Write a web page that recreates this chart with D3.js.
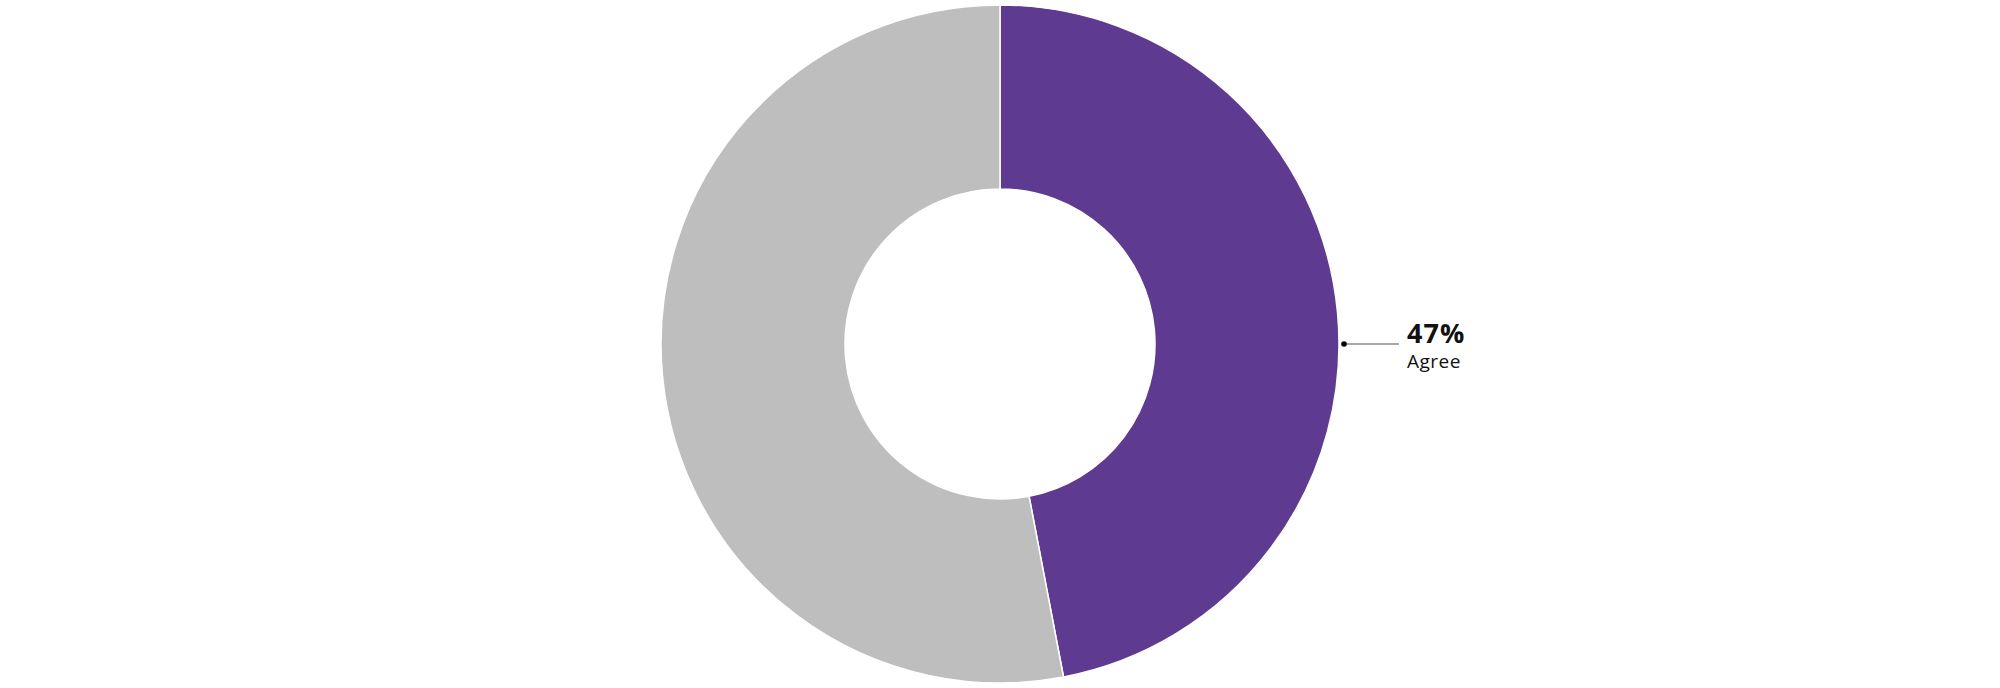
<!DOCTYPE html>
<html>
<head>
<meta charset="utf-8">
<script src="https://cdn.jsdelivr.net/npm/d3@7"></script>
<style>
  html, body { margin: 0; padding: 0; background: #fff; }
  #chart { width: 2000px; height: 688px; }
  text { font-family: "Open Sans", "Noto Sans", sans-serif; fill: #111; }
</style>
</head>
<body>
<div id="chart"></div>
<script>
// Slice data
const categories = ['Agree', 'Disagree'];
const values = [47, 53];
const colors = ['#5e3a91', '#bdbebd'];
const labelled = ['Agree'];

const width = 2000;
const height = 688;
const cx = 1000;
const cy = 344;
const outerRadius = 339;
const innerRadius = 155;

const data = categories.map((c, i) => ({ name: c, value: values[i], color: colors[i] }));

const svg = d3
  .select('#chart')
  .append('svg')
  .attr('width', width)
  .attr('height', height)
  .attr('viewBox', [0, 0, width, height]);

const g = svg.append('g').attr('transform', `translate(${cx},${cy})`);

const pie = d3.pie().sort(null).value((d) => d.value);
const arc = d3.arc().innerRadius(innerRadius).outerRadius(outerRadius);
const arcs = pie(data);

// Draw slices
g.selectAll('path')
  .data(arcs)
  .join('path')
  .attr('d', arc)
  .attr('fill', (d) => d.data.color)
  .attr('stroke', '#fff')
  .attr('stroke-width', 1.5)
  .attr('stroke-linejoin', 'round');

// Callout labels, anchored at the slice point nearest to 3 o'clock
const labels = g
  .selectAll('g.label')
  .data(arcs.filter((d) => labelled.includes(d.data.name)))
  .join('g')
  .attr('class', 'label');

labels.each(function (d) {
  const a = Math.max(d.startAngle, Math.min(d.endAngle, Math.PI / 2));
  const r0 = outerRadius + 5;
  const x0 = Math.sin(a) * r0;
  const y0 = -Math.cos(a) * r0;
  const x1 = x0 + 55;
  const sel = d3.select(this);

  sel.append('line')
    .attr('x1', x0).attr('y1', y0)
    .attr('x2', x1).attr('y2', y0)
    .attr('stroke', '#555')
    .attr('stroke-width', 1.2);

  sel.append('circle')
    .attr('cx', x0).attr('cy', y0)
    .attr('r', 2.8)
    .attr('fill', '#000');

  sel.append('text')
    .attr('x', x1 + 8)
    .attr('y', y0 - 1)
    .attr('font-size', 27)
    .attr('font-weight', 700)
    .attr('letter-spacing', 1)
    .text(`${d.data.value}%`);

  sel.append('text')
    .attr('x', x1 + 8)
    .attr('y', y0 + 24)
    .attr('font-size', 19)
    .attr('letter-spacing', 0.5)
    .text(d.data.name);
});
</script>
</body>
</html>
